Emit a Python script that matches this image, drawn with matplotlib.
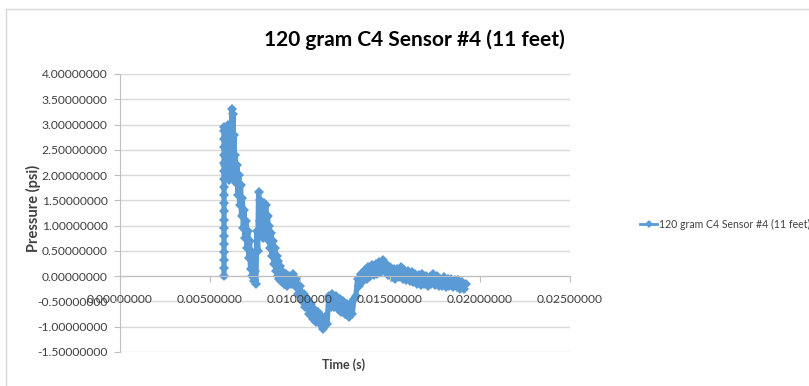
import numpy as np
import matplotlib
matplotlib.use("Agg")
import matplotlib.pyplot as plt
from matplotlib.lines import Line2D

plt.rcParams['font.family'] = ['Lato', 'DejaVu Sans']

# time in milliseconds, pressure in psi
time_ms = [5.78] * 19 + [
    5.80, 5.83, 5.86, 5.89, 5.92, 5.95, 5.98, 6.01, 6.04, 6.07,
    6.10, 6.13, 6.16, 6.19, 6.22, 6.25, 6.28, 6.31, 6.34, 6.37,
    6.40, 6.45, 6.50, 6.55, 6.60, 6.65, 6.70, 6.75, 6.80, 6.85,
    6.90, 6.95, 7.00, 7.05, 7.10, 7.15, 7.20, 7.25, 7.30, 7.35,
    7.40, 7.45, 7.50, 7.55, 7.60, 7.65, 7.70, 7.75, 7.80, 7.85,
    7.90, 7.95, 8.00, 8.05, 8.10, 8.15, 8.20, 8.25, 8.30, 8.35,
    8.40, 8.45, 8.50, 8.55, 8.60, 8.65, 8.70, 8.75, 8.80, 8.85,
    8.90, 8.95, 9.00, 9.1, 9.2, 9.3,
    9.4, 9.5, 9.6, 9.7, 9.8, 9.9, 10.0, 10.1, 10.2, 10.3,
    10.4, 10.5, 10.6, 10.7, 10.8, 10.9, 11.0, 11.1, 11.2, 11.3,
    11.4, 11.5, 11.6, 11.7, 11.8, 11.9, 12.0, 12.1, 12.2, 12.3,
    12.4, 12.5, 12.6, 12.7, 12.8, 12.9, 13.0, 13.1, 13.2, 13.3,
    13.4, 13.5, 13.6, 13.7, 13.8, 13.9, 14.0, 14.1, 14.2, 14.3,
    14.4, 14.5, 14.6, 14.7, 14.8, 14.9, 15.0, 15.1, 15.2, 15.3,
    15.4, 15.5, 15.6, 15.7, 15.8, 15.9, 16.0, 16.1, 16.2, 16.3,
    16.4, 16.5, 16.6, 16.7, 16.8, 16.9, 17.0, 17.1, 17.2, 17.3,
    17.4, 17.5, 17.6, 17.7, 17.8, 17.9, 18.0, 18.1, 18.2, 18.3,
    18.4, 18.5, 18.6, 18.7, 18.8, 18.9, 19.0, 19.1, 19.2]

pressure = [
    0.00, 0.16, 0.32, 0.48, 0.64, 0.80, 0.96, 1.12, 1.28, 1.44,
    1.60, 1.76, 1.92, 2.08, 2.24, 2.40, 2.56, 2.72, 2.88,
    2.95, 2.20, 2.90, 2.00, 2.80, 2.30, 3.00, 2.10, 2.70, 1.90,
    2.60, 2.00, 2.90, 2.40, 3.30, 2.30, 3.20, 2.00, 2.80, 1.90,
    2.40, 1.85, 2.20, 1.60, 2.00, 1.40, 1.80, 1.20, 1.55, 0.95,
    1.30, 0.75, 1.10, 0.55, 0.90, 0.35, 0.70, 0.15, 0.50, 0.00,
    0.35, -0.10, 0.10, -0.15, 0.90, 0.50, 1.66, 1.10, 1.50, 0.90,
    1.15, 0.75, 1.45, 1.00, 1.40, 0.90, 1.20, 0.70, 1.00, 0.55,
    0.85, 0.40, 0.70, 0.25, 0.55, 0.10, 0.40, 0.00, 0.30, -0.05,
    0.20, -0.10, 0.10, -0.15, 0.05, -0.20,
    0.00, -0.15, 0.05, -0.20, -0.05, -0.35, -0.20, -0.50, -0.35, -0.60,
    -0.45, -0.75, -0.55, -0.85, -0.65, -0.90, -0.70, -0.95, -0.80, -1.05,
    -0.80, -0.95, -0.40, -0.60, -0.35, -0.60, -0.40, -0.65, -0.45, -0.70,
    -0.50, -0.75, -0.55, -0.80, -0.55, -0.75, -0.45, -0.40, -0.05, -0.20,
    0.05, -0.10, 0.12, -0.05, 0.18, 0.00, 0.22, 0.02, 0.25, 0.05,
    0.28, 0.08, 0.32, 0.10, 0.25, 0.02, 0.18, -0.02, 0.15, -0.05,
    0.15, -0.02, 0.18, -0.05, 0.12, -0.08, 0.10, -0.10, 0.08, -0.12,
    0.05, -0.15, 0.02, -0.18, 0.05, -0.15, 0.00, -0.20, -0.02, -0.15,
    0.05, -0.18, 0.00, -0.20, -0.05, -0.20, -0.02, -0.22, -0.05, -0.20,
    -0.05, -0.22, -0.08, -0.22, -0.08, -0.25, -0.12, -0.25, -0.15]

series_name = '120 gram C4 Sensor #4 (11 feet)'
x_ticks = [0.0, 0.005, 0.010, 0.015, 0.020, 0.025]
y_ticks = [-1.5, -1.0, -0.5, 0.0, 0.5, 1.0, 1.5, 2.0, 2.5, 3.0, 3.5, 4.0]

blue = '#5B9BD5'
grid_c = '#D9D9D9'
txt_c = '#404040'

W, H = 809, 386
fig = plt.figure(figsize=(W / 100, H / 100), dpi=100)
ax = fig.add_axes([120 / W, 1 - 352 / H, 450 / W, 278 / H])

# gridlines under the data, tick labels on top of it (as Excel draws them)
for yv in y_ticks:
    ax.axhline(yv, color=grid_c, lw=1, zorder=1)

t = np.array(time_ms) / 1000.0
ax.plot(t, pressure, color=blue, lw=3.8, marker='D', ms=5,
        markeredgewidth=0, solid_joinstyle='round', zorder=2)

ax.set_xlim(0, 0.025)
ax.set_ylim(-1.5, 4.0)
ax.set_xticks(x_ticks)
ax.set_yticks(y_ticks)
ax.set_xticklabels([f'{v:.8f}' for v in x_ticks])
ax.set_yticklabels([f'{v:.8f}' for v in y_ticks])
ax.set_axisbelow(False)

for s in ['top', 'right']:
    ax.spines[s].set_visible(False)
ax.spines['bottom'].set_position(('data', 0))
ax.spines['bottom'].set_color('#BFBFBF')
ax.spines['left'].set_color('#BFBFBF')
ax.tick_params(axis='x', colors='#BFBFBF', labelcolor=txt_c, length=4,
               pad=9, labelsize=8.7)
ax.tick_params(axis='y', colors='#BFBFBF', labelcolor=txt_c, length=4,
               pad=5, labelsize=8.7)

fig.text(414 / W, 1 - 40 / H, series_name, ha='center', va='center',
         fontsize=15, fontweight='bold', color='black')
fig.text(33 / W, 1 - 208 / H, 'Pressure (psi)', rotation=90, ha='center',
         va='center', fontsize=10.5, fontweight='bold', color=txt_c)
fig.text(344 / W, 1 - 365 / H, 'Time (s)', ha='center', va='center',
         fontsize=9, fontweight='bold', color=txt_c)

# legend entry drawn like Excel's: thin line with a diamond marker
handle = Line2D([], [], color=blue, lw=2, marker='D', ms=4,
                markeredgewidth=0, label=series_name)
fig.legend(handles=[handle], loc='center left',
           bbox_to_anchor=(636 / W, 1 - 224 / H), frameon=False,
           fontsize=7.6, handlelength=1.6, handletextpad=0.2,
           borderaxespad=0, labelcolor=txt_c)

# chart frame (only top and left edges visible in the crop)
fig.add_artist(Line2D([6 / W, 6 / W], [0, 1 - 9 / H], color='#D9D9D9',
                      lw=1, transform=fig.transFigure))
fig.add_artist(Line2D([6 / W, 1], [1 - 9 / H, 1 - 9 / H], color='#D9D9D9',
                      lw=1, transform=fig.transFigure))

fig.savefig('out.png', dpi=100)
